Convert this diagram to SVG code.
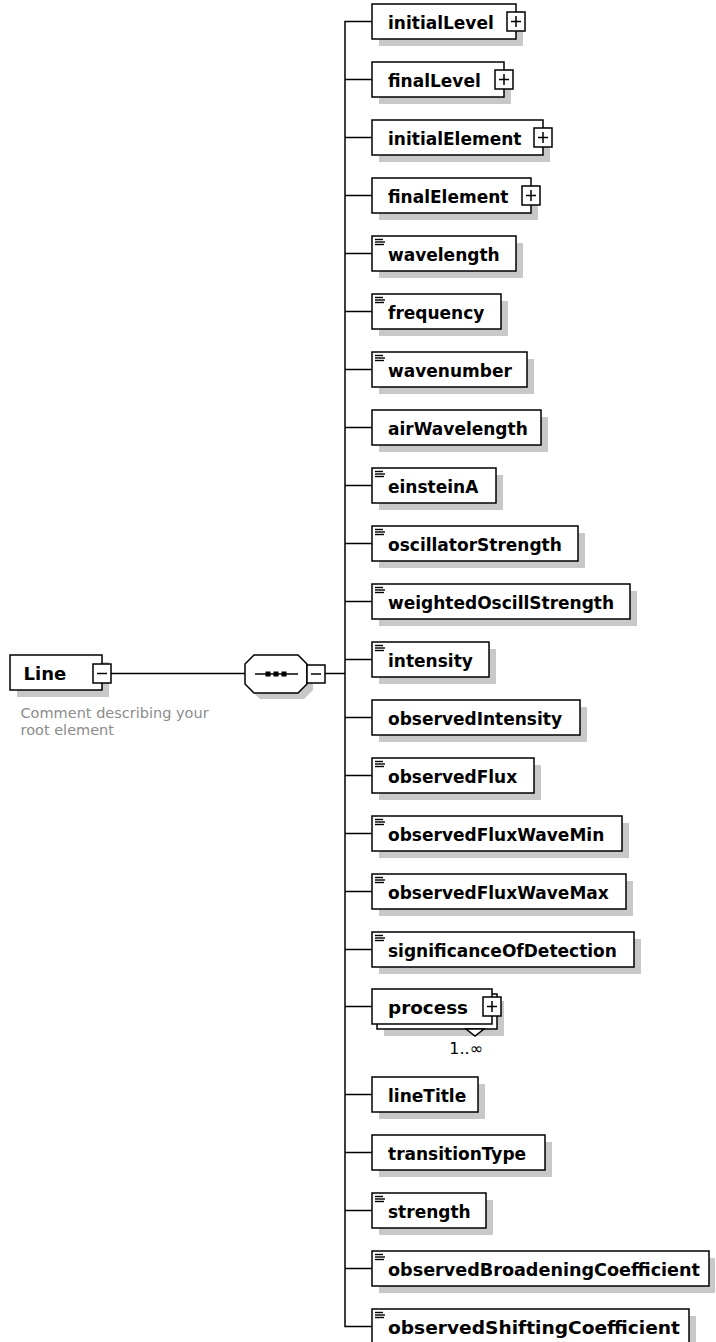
<svg xmlns="http://www.w3.org/2000/svg" width="716" height="1342" viewBox="0 0 716 1342">
<style>
.bx{fill:#fff;stroke:#000;stroke-width:1.5}
.sh{fill:#c8c8c8;stroke:none}
.lb{font-family:"DejaVu Sans",Verdana,sans-serif;font-weight:bold;font-size:17px;fill:#000}
.cn{fill:none;stroke:#000;stroke-width:1.5}
.ic{stroke:#000;stroke-width:1.4}
.cm{font-family:"DejaVu Sans",Verdana,sans-serif;font-size:14.5px;fill:#8c8c8c}
.oc{font-family:"DejaVu Sans",Verdana,sans-serif;font-size:16px;fill:#000}
</style>
<defs>
<g id="icon"><line class="ic" x1="375" y1="0" x2="383" y2="0"/><line class="ic" x1="375" y1="2.5" x2="385" y2="2.5"/><line class="ic" x1="375" y1="5" x2="384" y2="5"/></g>
</defs>
<g id="connectors">
<path class="cn" d="M372,21.5 H345 V1326.5 H372"/>
<path class="cn" d="M345,79.5 H372 M345,137.5 H372 M345,195.5 H372 M345,253.5 H372 M345,311.5 H372 M345,369.5 H372 M345,427.5 H372 M345,485.5 H372 M345,543.5 H372 M345,601.5 H372 M345,659.5 H372 M345,717.5 H372 M345,775.5 H372 M345,833.5 H372 M345,891.5 H372 M345,949.5 H372 M345,1006.5 H372 M345,1094.5 H372 M345,1152.5 H372 M345,1210.5 H372 M345,1268.5 H372"/>
<path class="cn" d="M111,673.5 H245 M325,673.5 H345"/>
</g>
<g id="Line">
<rect class="sh" x="17" y="662" width="92" height="35"/>
<rect class="bx" x="10" y="655" width="92" height="35"/>
<text class="lb" x="23.5" y="679.5" style="font-size:18px">Line</text>
<rect class="bx" x="93" y="664" width="18" height="19"/>
<line class="cn" x1="97" y1="673.5" x2="107" y2="673.5"/>
<text class="cm" x="20.5" y="718">Comment describing your</text>
<text class="cm" x="20.5" y="735">root element</text>
</g>
<g id="sequence">
<polygon class="sh" points="260,661 304,661 313,670 313,690 304,699 260,699 251,690 251,670"/>
<polygon class="bx" points="254,655 298,655 307,664 307,684 298,693 254,693 245,684 245,664"/>
<line class="cn" x1="255" y1="674" x2="298" y2="674"/>
<rect x="265.5" y="671.5" width="5" height="5"/>
<rect x="273.5" y="671.5" width="5" height="5"/>
<rect x="281.5" y="671.5" width="5" height="5"/>
<rect class="bx" x="307" y="665" width="18" height="18"/>
<line class="cn" x1="311" y1="674" x2="321" y2="674"/>
</g>
<g id="initialLevel">
<rect class="sh" x="379" y="11" width="144" height="35"/>
<rect class="bx" x="372" y="4" width="144" height="35"/>
<text class="lb" x="388" y="28.5">initialLevel</text>
<rect class="bx" x="507" y="12" width="18" height="19"/>
<path class="cn" d="M511,21.5 H521 M516,16 V27"/>
</g>
<g id="finalLevel">
<rect class="sh" x="379" y="69" width="132" height="35"/>
<rect class="bx" x="372" y="62" width="132" height="35"/>
<text class="lb" x="388" y="86.5">finalLevel</text>
<rect class="bx" x="495" y="70" width="18" height="19"/>
<path class="cn" d="M499,79.5 H509 M504,74 V85"/>
</g>
<g id="initialElement">
<rect class="sh" x="379" y="127" width="171" height="35"/>
<rect class="bx" x="372" y="120" width="171" height="35"/>
<text class="lb" x="388" y="144.5">initialElement</text>
<rect class="bx" x="534" y="128" width="18" height="19"/>
<path class="cn" d="M538,137.5 H548 M543,132 V143"/>
</g>
<g id="finalElement">
<rect class="sh" x="379" y="185" width="159" height="35"/>
<rect class="bx" x="372" y="178" width="159" height="35"/>
<text class="lb" x="388" y="202.5">finalElement</text>
<rect class="bx" x="522" y="186" width="18" height="19"/>
<path class="cn" d="M526,195.5 H536 M531,190 V201"/>
</g>
<g id="wavelength">
<rect class="sh" x="379" y="243" width="144" height="35"/>
<rect class="bx" x="372" y="236" width="144" height="35"/>
<use href="#icon" y="239.5"/>
<text class="lb" x="388" y="260.5">wavelength</text>
</g>
<g id="frequency">
<rect class="sh" x="379" y="301" width="129" height="35"/>
<rect class="bx" x="372" y="294" width="129" height="35"/>
<use href="#icon" y="297.5"/>
<text class="lb" x="388" y="318.5">frequency</text>
</g>
<g id="wavenumber">
<rect class="sh" x="379" y="359" width="155" height="35"/>
<rect class="bx" x="372" y="352" width="155" height="35"/>
<use href="#icon" y="355.5"/>
<text class="lb" x="388" y="376.5">wavenumber</text>
</g>
<g id="airWavelength">
<rect class="sh" x="379" y="417" width="169" height="35"/>
<rect class="bx" x="372" y="410" width="169" height="35"/>
<text class="lb" x="388" y="434.5">airWavelength</text>
</g>
<g id="einsteinA">
<rect class="sh" x="379" y="475" width="124" height="35"/>
<rect class="bx" x="372" y="468" width="124" height="35"/>
<use href="#icon" y="471.5"/>
<text class="lb" x="388" y="492.5">einsteinA</text>
</g>
<g id="oscillatorStrength">
<rect class="sh" x="379" y="533" width="206" height="35"/>
<rect class="bx" x="372" y="526" width="206" height="35"/>
<use href="#icon" y="529.5"/>
<text class="lb" x="388" y="550.5">oscillatorStrength</text>
</g>
<g id="weightedOscillStrength">
<rect class="sh" x="379" y="591" width="258" height="35"/>
<rect class="bx" x="372" y="584" width="258" height="35"/>
<use href="#icon" y="587.5"/>
<text class="lb" x="388" y="608.5">weightedOscillStrength</text>
</g>
<g id="intensity">
<rect class="sh" x="379" y="649" width="117" height="35"/>
<rect class="bx" x="372" y="642" width="117" height="35"/>
<use href="#icon" y="645.5"/>
<text class="lb" x="388" y="666.5">intensity</text>
</g>
<g id="observedIntensity">
<rect class="sh" x="379" y="707" width="208" height="35"/>
<rect class="bx" x="372" y="700" width="208" height="35"/>
<text class="lb" x="388" y="724.5">observedIntensity</text>
</g>
<g id="observedFlux">
<rect class="sh" x="379" y="765" width="162" height="35"/>
<rect class="bx" x="372" y="758" width="162" height="35"/>
<use href="#icon" y="761.5"/>
<text class="lb" x="388" y="782.5">observedFlux</text>
</g>
<g id="observedFluxWaveMin">
<rect class="sh" x="379" y="823" width="250" height="35"/>
<rect class="bx" x="372" y="816" width="250" height="35"/>
<use href="#icon" y="819.5"/>
<text class="lb" x="388" y="840.5">observedFluxWaveMin</text>
</g>
<g id="observedFluxWaveMax">
<rect class="sh" x="379" y="881" width="254" height="35"/>
<rect class="bx" x="372" y="874" width="254" height="35"/>
<use href="#icon" y="877.5"/>
<text class="lb" x="388" y="898.5">observedFluxWaveMax</text>
</g>
<g id="significanceOfDetection">
<rect class="sh" x="379" y="939" width="262" height="35"/>
<rect class="bx" x="372" y="932" width="262" height="35"/>
<use href="#icon" y="935.5"/>
<text class="lb" x="388" y="956.5">significanceOfDetection</text>
</g>
<g id="process">
<rect class="sh" x="384" y="1001" width="120" height="35"/>
<rect class="bx" x="377" y="994" width="120" height="35"/>
<polygon class="bx" points="466,1029 484,1029 475,1036"/>
<rect class="bx" x="372" y="989" width="120" height="35"/>
<text class="lb" x="388" y="1013.5" textLength="80" lengthAdjust="spacingAndGlyphs">process</text>
<rect class="bx" x="483" y="997" width="18" height="19"/>
<path class="cn" d="M487,1006.5 H497 M492,1001 V1012"/>
<text class="oc" x="483" y="1054" text-anchor="end">1..∞</text>
</g>
<g id="lineTitle">
<rect class="sh" x="379" y="1084" width="106" height="35"/>
<rect class="bx" x="372" y="1077" width="106" height="35"/>
<text class="lb" x="388" y="1101.5">lineTitle</text>
</g>
<g id="transitionType">
<rect class="sh" x="379" y="1142" width="173" height="35"/>
<rect class="bx" x="372" y="1135" width="173" height="35"/>
<text class="lb" x="388" y="1159.5">transitionType</text>
</g>
<g id="strength">
<rect class="sh" x="379" y="1200" width="114" height="35"/>
<rect class="bx" x="372" y="1193" width="114" height="35"/>
<use href="#icon" y="1196.5"/>
<text class="lb" x="388" y="1217.5">strength</text>
</g>
<g id="observedBroadeningCoefficient">
<rect class="sh" x="379" y="1258" width="336" height="35"/>
<rect class="bx" x="372" y="1251" width="337" height="35"/>
<use href="#icon" y="1254.5"/>
<text class="lb" x="388" y="1275.5" textLength="312" lengthAdjust="spacingAndGlyphs">observedBroadeningCoefficient</text>
</g>
<g id="observedShiftingCoefficient">
<rect class="sh" x="379" y="1316" width="317" height="35"/>
<rect class="bx" x="372" y="1309" width="317" height="35"/>
<use href="#icon" y="1312.5"/>
<text class="lb" x="388" y="1333.5" textLength="292" lengthAdjust="spacingAndGlyphs">observedShiftingCoefficient</text>
</g>
</svg>
